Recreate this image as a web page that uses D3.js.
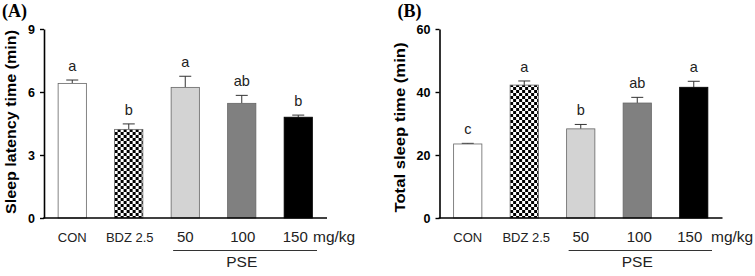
<!DOCTYPE html>
<html>
<head>
<meta charset="utf-8">
<script src="https://cdn.jsdelivr.net/npm/d3@7"></script>
<style>
  body { margin: 0; background: #fff; }
  svg { display: block; }
</style>
</head>
<body>
<svg width="755" height="276"></svg>
<script>
// groups and doses
var groups = ["CON", "BDZ 2.5", "50", "100", "150"];
var fills = ["#ffffff", "checker", "#d3d3d3", "#808080", "#000000"];

// (A) sleep latency
var latencyMean = [6.41, 4.22, 6.22, 5.46, 4.80];
var latencyErr = [0.16, 0.26, 0.53, 0.38, 0.10];
var latencyLetters = ["a", "b", "a", "ab", "b"];
var latencyTicks = [0, 3, 6, 9];

// (B) total sleep time
var totalMean = [23.5, 42.2, 28.3, 36.5, 41.5];
var totalErr = [0.2, 1.3, 1.4, 1.8, 1.9];
var totalLetters = ["c", "a", "b", "ab", "a"];
var totalTicks = [0, 20, 40, 60];

var font = "Arial, 'Liberation Sans', sans-serif";
var svg = d3.select("svg");
var defs = svg.append("defs");

function drawPanel(p) {
  var g = svg.append("g");

  var x = d3.scaleBand().domain(groups)
    .range([p.x0, p.x0 + 282.5])
    .paddingInner(0.5).paddingOuter(0.25);
  var y = d3.scaleLinear().domain([0, p.max]).range([218, 29]);

  // checker pattern
  var px = x(groups[1]);
  var pat = defs.append("pattern")
    .attr("id", p.id + "-chk")
    .attr("patternUnits", "userSpaceOnUse")
    .attr("x", px).attr("y", 0)
    .attr("width", 6).attr("height", 6);
  pat.append("rect").attr("width", 6).attr("height", 6).attr("fill", "#fff");
  pat.append("rect").attr("width", 3).attr("height", 3).attr("fill", "#000");
  pat.append("rect").attr("x", 3).attr("y", 3).attr("width", 3).attr("height", 3).attr("fill", "#000");

  var data = groups.map(function(d, i) {
    return {g: d, v: p.mean[i], e: p.err[i], l: p.letters[i], f: fills[i]};
  });

  // error bars (upper only)
  g.selectAll(".err").data(data).enter().append("line")
    .attr("x1", function(d) { return x(d.g) + x.bandwidth() / 2; })
    .attr("x2", function(d) { return x(d.g) + x.bandwidth() / 2; })
    .attr("y1", function(d) { return y(d.v); })
    .attr("y2", function(d) { return y(d.v + d.e); })
    .attr("stroke", "#333").attr("stroke-width", 1);
  g.selectAll(".cap").data(data).enter().append("line")
    .attr("x1", function(d) { return x(d.g) + x.bandwidth() / 2 - 6; })
    .attr("x2", function(d) { return x(d.g) + x.bandwidth() / 2 + 6; })
    .attr("y1", function(d) { return y(d.v + d.e); })
    .attr("y2", function(d) { return y(d.v + d.e); })
    .attr("stroke", "#333").attr("stroke-width", 1);

  g.selectAll(".bar").data(data).enter().append("rect")
    .attr("x", function(d) { return x(d.g); })
    .attr("y", function(d) { return y(d.v); })
    .attr("width", x.bandwidth())
    .attr("height", function(d) { return y(0) - y(d.v); })
    .attr("fill", function(d) { return d.f == "checker" ? "url(#" + p.id + "-chk)" : d.f; })
    .attr("stroke", function(d) { return d.f == "#000000" ? "#000" : "#666"; })
    .attr("stroke-width", 0.8);

  // significance letters
  g.selectAll(".let").data(data).enter().append("text")
    .attr("x", function(d) { return x(d.g) + x.bandwidth() / 2; })
    .attr("y", function(d) { return y(d.v + d.e) - 9; })
    .attr("text-anchor", "middle")
    .attr("font-family", font)
    .attr("font-size", 14.5)
    .attr("fill", "#222")
    .text(function(d) { return d.l; });

  // axes
  g.append("g")
    .attr("transform", "translate(" + p.x0 + ",0)")
    .call(d3.axisLeft(y).tickValues(p.ticks).tickSize(4).tickSizeOuter(0).tickPadding(5))
    .call(function(a) {
      a.select(".domain").attr("stroke-width", 1.6);
      a.selectAll(".tick line").attr("stroke-width", 1.4);
      a.selectAll("text")
        .attr("font-family", font)
        .attr("font-size", 12.5).attr("font-weight", "bold").attr("fill", "#000");
    });
  g.append("line")
    .attr("x1", p.x0 - 0.8).attr("x2", p.x0 + 283)
    .attr("y1", y(0)).attr("y2", y(0))
    .attr("stroke", "#000").attr("stroke-width", 1.6);

  // category labels
  g.selectAll(".xl").data(data).enter().append("text")
    .attr("x", function(d, i) { return x(d.g) + x.bandwidth() / 2 + p.labelDx[i]; })
    .attr("y", 241.5)
    .attr("text-anchor", "middle")
    .attr("font-family", font)
    .attr("font-size", function(d, i) { return i < 2 ? 13 : 15; })
    .attr("fill", "#222")
    .text(function(d) { return d.g; });

  g.append("text")
    .attr("x", p.mgx).attr("y", 241.5)
    .attr("font-family", font)
    .attr("font-size", 15.5).attr("fill", "#222")
    .text("mg/kg");

  g.append("line")
    .attr("x1", x(groups[2]) + 2).attr("x2", p.lineEnd)
    .attr("y1", 250.5).attr("y2", 250.5)
    .attr("stroke", "#333").attr("stroke-width", 1);
  g.append("text")
    .attr("x", x(groups[3]) + x.bandwidth() / 2).attr("y", 267)
    .attr("text-anchor", "middle")
    .attr("font-family", font)
    .attr("font-size", 15.5).attr("fill", "#222")
    .text("PSE");

  // y title
  g.append("text")
    .attr("transform", "translate(" + p.titleX + "," + p.titleY + ") rotate(-90)")
    .attr("text-anchor", "middle")
    .attr("font-family", font)
    .attr("font-size", 14).attr("font-weight", "bold").attr("fill", "#000")
    .attr("textLength", p.titleLen).attr("lengthAdjust", "spacingAndGlyphs")
    .text(p.title);

  // panel label
  g.append("text")
    .attr("x", p.x0 - 42).attr("y", 17)
    .attr("font-family", "'Times New Roman', 'Liberation Serif', serif")
    .attr("font-size", 18).attr("font-weight", "bold").attr("fill", "#000")
    .text(p.label);
}

drawPanel({
  id: "a", label: "(A)", x0: 44, max: 9, ticks: latencyTicks,
  mean: latencyMean, err: latencyErr, letters: latencyLetters,
  title: "Sleep latency time (min)", titleX: 16, titleY: 122, titleLen: 184,
  labelDx: [0, 1, 0, 1, -3], mgx: 313, lineEnd: 317
});

drawPanel({
  id: "b", label: "(B)", x0: 439.5, max: 60, ticks: totalTicks,
  mean: totalMean, err: totalErr, letters: totalLetters,
  title: "Total sleep time (min)", titleX: 405, titleY: 127.5, titleLen: 170,
  labelDx: [0, 2, 0, 2, -4], mgx: 711, lineEnd: 712
});
</script>
</body>
</html>
